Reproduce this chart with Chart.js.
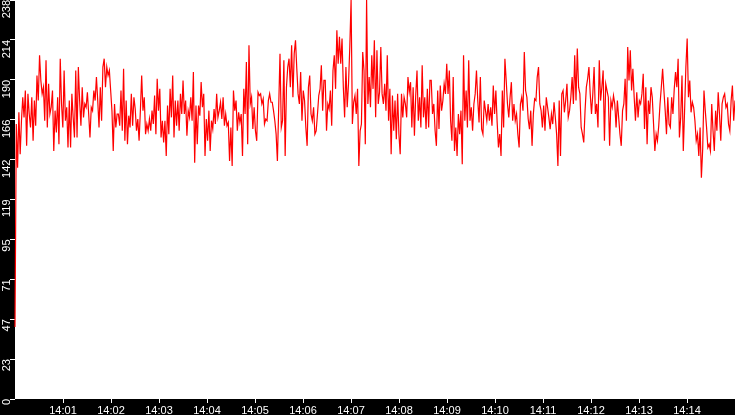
<!DOCTYPE html>
<html>
<head>
<meta charset="utf-8">
<title>Signal 14:00 - 14:15</title>
<script src="https://cdn.jsdelivr.net/npm/chart.js@4/dist/chart.umd.min.js"></script>
<style>
  html, body { margin: 0; padding: 0; background: #000; }
  #wrap { width: 735px; height: 415px; }
</style>
</head>
<body>
<div id="wrap"><canvas id="signalChart" width="735" height="415"></canvas></div>
<script>
/* ===== DATA ===== */
// samples, 14:00:00 -> 14:15:00, evenly spaced
const values = [
  43,164,138,171,146,166,180,168,184,151,182,170,162,180,154,178,163,193,178,205,
  190,182,186,166,202,162,188,170,174,184,148,172,159,180,152,203,176,162,196,166,
  174,150,178,150,182,168,156,196,156,198,178,163,186,168,176,174,183,170,156,174,
  172,184,178,192,178,162,186,166,198,203,186,198,193,196,184,172,148,176,162,170,
  170,163,184,160,197,154,178,152,169,162,182,163,180,173,160,167,154,172,193,172,
  180,158,164,160,167,160,172,164,181,158,191,172,185,156,166,153,166,145,175,158,
  185,168,193,156,178,163,178,160,182,170,190,170,178,157,172,168,180,166,195,141,
  175,152,175,169,189,174,182,145,167,154,172,148,166,161,173,164,182,168,172,
  177,167,180,163,170,163,165,142,162,139,184,172,178,160,171,165,170,145,185,170,
  201,152,211,176,180,161,174,160,154,183,181,182,176,179,164,167,166,178,182,177,
  177,172,166,158,142,174,206,162,166,202,145,186,198,203,186,211,180,206,214,197,
  182,176,195,166,184,178,162,151,186,193,170,166,174,158,160,170,181,185,199,172,190,
  190,160,176,173,184,163,196,205,185,220,200,216,200,215,186,168,198,174,188,210,
  238,164,177,181,170,185,139,160,164,207,196,152,238,176,192,174,205,185,214,168,
  208,176,183,210,182,176,188,172,205,166,185,146,181,160,178,155,182,158,146,182,
  168,180,176,168,192,183,189,162,186,157,181,196,166,180,162,199,168,180,161,185,162,190,
  190,170,176,160,151,184,161,187,172,178,188,182,200,182,196,166,154,192,148,162,
  145,170,158,172,140,205,166,184,162,202,166,174,160,176,182,196,178,165,192,161,
  158,178,172,166,176,166,174,163,187,170,184,165,150,158,145,184,162,203,190,176,
  168,180,189,166,176,166,170,158,150,176,180,172,207,184,180,167,161,172,151,170,179,
  178,192,198,176,172,162,175,160,180,174,168,161,170,164,177,168,158,139,178,145,
  182,184,171,178,188,168,172,180,192,176,205,178,209,186,182,162,158,153,172,186,
  191,198,182,170,182,198,170,176,162,202,178,186,196,154,188,184,180,151,178,174,
  181,176,162,178,168,158,151,172,176,191,166,210,190,208,184,197,180,166,
  183,168,178,176,182,194,161,186,152,178,170,186,180,164,148,158,154,163,176,186,
  197,184,172,158,180,164,162,180,170,185,195,186,203,156,168,193,148,172,198,215,
  180,190,171,177,174,166,154,158,145,162,132,149,184,172,162,150,152,148,176,160,
  148,172,160,183,170,154,176,180,182,174,176,164,160,178,187,166,178
];

const xTickLabels = ["14:01","14:02","14:03","14:04","14:05","14:06","14:07",
                     "14:08","14:09","14:10","14:11","14:12","14:13","14:14"];
const yTickLabels = ["0","23","47","71","95","119","142","166","190","214","238"];

const DURATION_SEC = 900;   // 14:00:00 -> 14:15:00
const Y_MAX = 238;

/* ===== POINTS ===== */
const step = DURATION_SEC / (values.length - 1);
const points = values.map((v, i) => ({ x: i * step, y: v }));

/* ===== BACKGROUND: black frame, white plot ===== */
const backdrop = {
  id: "backdrop",
  beforeDraw(chart) {
    const { ctx, chartArea: a } = chart;
    ctx.save();
    ctx.fillStyle = "#000";
    ctx.fillRect(0, 0, chart.width, chart.height);
    ctx.fillStyle = "#fff";
    ctx.fillRect(a.left, a.top, a.right - a.left, a.bottom - a.top);
    ctx.restore();
  }
};

Chart.defaults.font.family = "'Liberation Sans', Arial, sans-serif";
Chart.defaults.font.size = 11;
Chart.defaults.color = "#fff";

/* ===== LINE CHART ===== */
new Chart(document.getElementById("signalChart"), {
  type: "line",
  data: {
    datasets: [{
      data: points,
      borderColor: "#ff0000",
      borderWidth: 1.2,
      pointRadius: 0,
      tension: 0,
      fill: false,
      clip: { left: 1, top: 0, right: 0, bottom: 0 }
    }]
  },
  options: {
    responsive: false,
    animation: false,
    events: [],
    layout: { padding: 0, autoPadding: false },
    plugins: {
      legend: { display: false },
      tooltip: { enabled: false }
    },
    scales: {
      x: {
        type: "linear",
        min: 0,
        max: DURATION_SEC,
        afterFit(scale) {
          scale.height = 16;
          scale.paddingLeft = 0;
          scale.paddingRight = 0;
        },
        afterBuildTicks(scale) {
          scale.ticks = scale.ticks.filter(t => t.value > 0 && t.value < DURATION_SEC);
        },
        ticks: {
          stepSize: 60,
          autoSkip: false,
          maxRotation: 0,
          padding: 1,
          color: "#fff",
          callback: (value) => xTickLabels[Math.round(value / 60) - 1] || ""
        },
        grid: {
          drawOnChartArea: false,
          tickLength: 4,
          color: "#fff",
          tickColor: "#fff"
        },
        border: { display: false }
      },
      y: {
        min: 0,
        max: Y_MAX,
        afterFit(scale) {
          scale.width = 15;
          scale.paddingTop = 0;
          scale.paddingBottom = 0;
        },
        ticks: {
          stepSize: Y_MAX / 10,
          minRotation: 90,
          maxRotation: 90,
          padding: 3,
          color: "#fff",
          callback: (value, index) => yTickLabels[index]
        },
        grid: {
          drawOnChartArea: false,
          tickLength: 5,
          color: "#fff",
          tickColor: "#fff"
        },
        border: { display: false }
      }
    }
  },
  plugins: [backdrop]
});
</script>
</body>
</html>
